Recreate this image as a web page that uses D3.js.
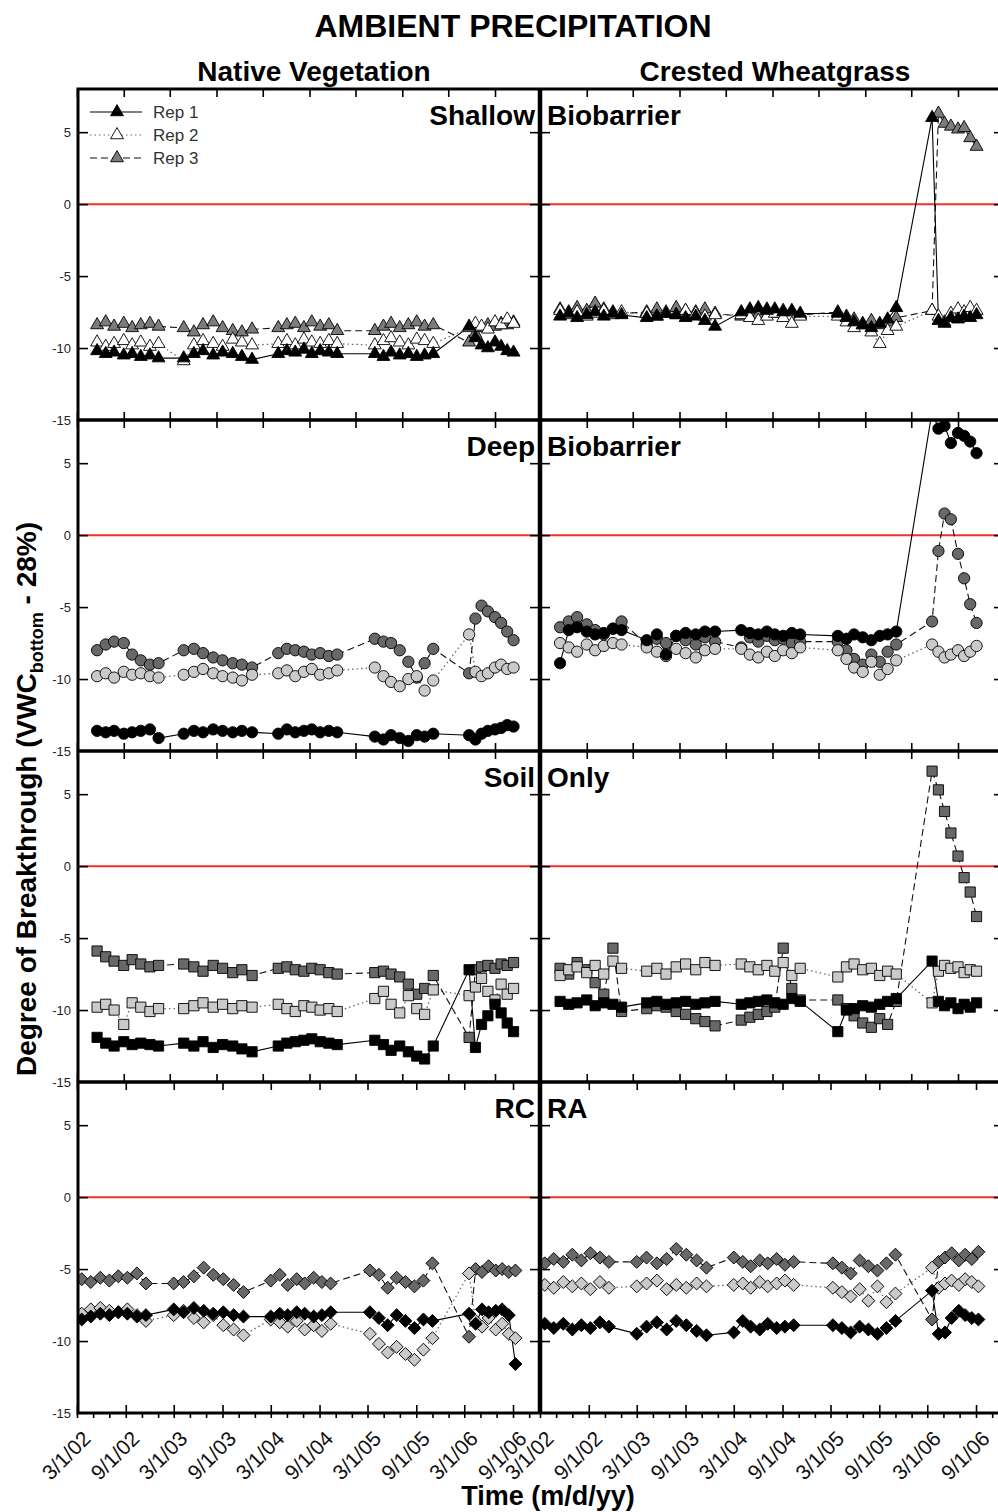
<!DOCTYPE html>
<html>
<head>
<meta charset="utf-8">
<title>Ambient Precipitation</title>
<script src="https://cdnjs.cloudflare.com/ajax/libs/d3/7.8.5/d3.min.js"></script>
<style>
  body { margin: 0; background: #fff; }
  svg { display: block; font-family: Arial, "Liberation Sans", sans-serif; }
</style>
</head>
<body>
<svg id="chart"></svg>
<script>
// ---- values ----
const treatmentLeft = ["Shallow", "Deep", "Soil", "RC"];
const treatmentRight = ["Biobarrier", "Biobarrier", "Only", "RA"];
const vegetation = ["Native Vegetation", "Crested Wheatgrass"];
const repNames = ["Rep 1", "Rep 2", "Rep 3"];
const yTicks = [5, 0, -5, -10, -15];
const tickDates = ["2002-03-01", "2002-09-01", "2003-03-01", "2003-09-01", "2004-03-01",
                   "2004-09-01", "2005-03-01", "2005-09-01", "2006-03-01", "2006-09-01"];
const tickLabels = ["3/1/02", "9/1/02", "3/1/03", "9/1/03", "3/1/04",
                    "9/1/04", "3/1/05", "9/1/05", "3/1/06", "9/1/06"];

// sampling dates, biobarrier and soil-only plots
const sampleDates = [
  "2002-05-19","2002-06-22","2002-07-25","2002-09-01","2002-10-04","2002-11-07","2002-12-13","2003-01-16",
  "2003-04-25","2003-06-04","2003-07-10","2003-08-19","2003-09-25","2003-11-04","2003-12-10","2004-01-19",
  "2004-05-01","2004-06-04","2004-07-07","2004-08-10","2004-09-10","2004-10-13","2004-11-16","2004-12-19",
  "2005-05-16","2005-06-19","2005-07-19","2005-08-22","2005-09-25","2005-10-28","2005-11-28","2006-01-01",
  "2006-05-22","2006-06-16","2006-07-10","2006-08-04","2006-09-01","2006-09-25","2006-10-19","2006-11-13"];
// sampling dates, RCRA plots
const rcraDates = [
  "2002-03-19","2002-04-22","2002-05-28","2002-07-01","2002-08-04","2002-09-07","2002-10-13","2002-11-16",
  "2003-03-01","2003-04-07","2003-05-16","2003-06-22","2003-07-28","2003-09-04","2003-10-13","2003-11-19",
  "2004-03-01","2004-04-04","2004-05-04","2004-06-07","2004-07-07","2004-08-10","2004-09-10","2004-10-13",
  "2005-03-10","2005-04-13","2005-05-16","2005-06-19","2005-07-22","2005-08-25","2005-09-28","2005-11-01",
  "2006-03-19","2006-04-13","2006-05-07","2006-06-01","2006-06-28","2006-07-22","2006-08-16","2006-09-10"];

const shallowNative1 = [-10.2,-10.4,-10.3,-10.5,-10.4,-10.6,-10.5,-10.7, -10.7,-10.4,-10.2,-10.5,-10.3,-10.4,-10.6,-10.8,
  -10.4,-10.2,-10.3,-10.1,-10.4,-10.2,-10.3,-10.4, -10.4,-10.6,-10.3,-10.5,-10.4,-10.6,-10.5,-10.4, -8.5,-9.3,-9.8,-10.0,-9.6,-9.9,-10.2,-10.3];
const shallowNative2 = [-9.6,-9.9,-9.7,-9.5,-9.8,-9.6,-9.9,-9.7, -10.9,-9.8,-9.5,-9.7,-9.9,-9.4,-9.6,-9.8,
  -9.7,-9.5,-9.8,-9.4,-9.6,-9.7,-9.5,-9.7, -9.8,-9.5,-9.3,-9.6,-9.8,-9.4,-9.5,-9.7, -8.6,-8.3,-8.5,-8.7,-8.2,-8.4,-8.0,-8.3];
const shallowNative3 = [-8.4,-8.2,-8.5,-8.3,-8.6,-8.4,-8.3,-8.5, -8.6,-8.9,-8.4,-8.2,-8.6,-8.8,-8.9,-8.7,
  -8.6,-8.4,-8.3,-8.6,-8.2,-8.5,-8.4,-8.8, -8.8,-8.5,-8.3,-8.6,-8.4,-8.2,-8.5,-8.4, -9.6,-9.0,-8.6,-8.4,-8.5,-8.3,-8.4,-8.2];

const shallowCrested1 = [-7.8,-7.6,-7.9,-7.7,-7.5,-7.8,-7.6,-7.7, -7.9,-7.8,-7.6,-7.7,-7.9,-7.8,-8.1,-8.5,
  -7.5,-7.3,-7.2,-7.4,-7.3,-7.5,-7.4,-7.6, -7.6,-7.9,-8.2,-8.4,-8.6,-8.3,-8.0,-7.2, 6.0,-8.1,-8.3,-7.9,-8.0,-7.8,-7.9,-7.7];
const shallowCrested2 = [-7.4,-7.7,-7.5,-7.8,-7.6,-7.4,-7.7,-7.5, -7.6,-7.8,-7.5,-7.7,-7.4,-7.6,-7.8,-7.7,
  -7.7,-7.9,-8.1,-7.8,-7.6,-7.9,-8.3,-7.8, -7.8,-8.2,-8.6,-8.4,-8.9,-9.7,-8.8,-8.5, -7.4,-7.8,-8.2,-7.6,-7.3,-7.5,-7.2,-7.4];
const shallowCrested3 = [-7.3,-7.5,-7.2,-7.4,-6.9,-7.3,-7.5,-7.6, -7.5,-7.3,-7.6,-7.2,-7.4,-7.5,-7.3,-7.6,
  -7.8,-7.5,-7.7,-7.3,-7.6,-7.4,-7.5,-7.7, -7.5,-7.8,-8.0,-8.3,-8.1,-8.4,-8.2,-7.9, -7.4,6.3,5.6,5.4,5.2,5.3,4.6,4.0];

const deepNative1 = [-13.6,-13.7,-13.6,-13.8,-13.7,-13.6,-13.5,-14.1, -13.8,-13.6,-13.7,-13.5,-13.6,-13.7,-13.6,-13.7,
  -13.8,-13.5,-13.7,-13.6,-13.5,-13.7,-13.6,-13.7, -14.0,-14.2,-13.9,-14.1,-14.3,-13.9,-14.0,-13.8, -13.9,-14.2,-13.8,-13.6,-13.5,-13.4,-13.2,-13.3];
const deepNative2 = [-9.8,-9.6,-9.9,-9.5,-9.7,-9.6,-9.8,-9.9, -9.7,-9.5,-9.3,-9.6,-9.8,-9.9,-10.1,-9.7,
  -9.6,-9.4,-9.8,-9.5,-9.3,-9.7,-9.6,-9.4, -9.2,-9.8,-10.2,-10.5,-10.0,-9.8,-10.8,-10.1, -6.9,-9.5,-9.8,-9.6,-9.2,-9.0,-9.3,-9.2];
const deepNative3 = [-8.0,-7.6,-7.4,-7.5,-8.3,-8.7,-9.0,-8.9, -8.0,-7.9,-8.2,-8.5,-8.7,-8.9,-9.0,-9.2,
  -8.2,-7.9,-8.0,-8.1,-8.3,-8.2,-8.4,-8.3, -7.2,-7.4,-7.5,-8.0,-8.8,-9.9,-8.9,-7.9, -9.6,-5.8,-4.9,-5.3,-5.7,-6.1,-6.7,-7.3];

const deepCrested1 = [-8.9,-6.6,-6.4,-6.7,-6.9,-6.8,-6.5,-6.6, -7.3,-6.9,-8.3,-7.0,-6.8,-6.9,-6.7,-6.7,
  -6.6,-6.8,-6.9,-6.7,-6.9,-7.0,-6.8,-6.9, -7.0,-7.2,-6.9,-7.1,-7.3,-7.0,-6.9,-6.7, 8.6,7.4,7.6,6.4,7.1,6.9,6.5,5.7];
const deepCrested2 = [-7.5,-7.8,-8.1,-7.6,-8.0,-7.7,-7.5,-7.6, -7.8,-8.1,-8.4,-7.9,-8.2,-8.5,-8.0,-7.9,
  -7.9,-8.3,-8.5,-8.1,-8.4,-8.0,-8.2,-7.8, -8.0,-8.6,-9.2,-9.5,-8.8,-9.7,-9.3,-8.7, -7.6,-8.1,-8.5,-8.3,-8.0,-8.4,-8.1,-7.7];
const deepCrested3 = [-6.4,-6.0,-5.7,-6.2,-6.6,-6.9,-6.5,-6.0, -7.6,-7.2,-7.5,-7.0,-7.3,-7.6,-7.1,-7.4,
  -7.8,-7.1,-7.4,-7.0,-7.3,-7.2,-7.5,-7.4, -7.4,-8.0,-8.6,-9.0,-8.3,-8.8,-8.1,-7.6, -6.0,-1.1,1.5,1.1,-1.3,-3.0,-4.8,-6.1];

const soilNative1 = [-11.9,-12.3,-12.5,-12.2,-12.4,-12.3,-12.4,-12.5, -12.3,-12.5,-12.2,-12.6,-12.4,-12.5,-12.7,-12.9,
  -12.5,-12.3,-12.2,-12.1,-12.0,-12.2,-12.3,-12.4, -12.1,-12.4,-12.8,-12.5,-12.9,-13.2,-13.4,-12.5, -7.2,-12.6,-11.0,-10.4,-9.6,-10.2,-10.9,-11.5];
const soilNative2 = [-9.8,-9.6,-10.0,-11.0,-9.5,-9.8,-10.1,-9.9, -9.9,-9.7,-9.5,-9.8,-9.6,-9.9,-9.7,-9.8,
  -9.6,-9.9,-10.1,-9.7,-9.8,-10.0,-9.9,-10.1, -9.2,-8.7,-9.6,-10.2,-9.0,-9.9,-10.3,-8.6, -9.0,-8.4,-7.8,-8.7,-9.3,-8.2,-8.9,-8.5];
const soilNative3 = [-5.9,-6.3,-6.6,-6.9,-6.5,-6.8,-7.0,-6.9, -6.8,-7.0,-7.3,-6.9,-7.1,-7.4,-7.2,-7.6,
  -7.1,-7.0,-7.2,-7.3,-7.1,-7.2,-7.4,-7.5, -7.4,-7.3,-7.5,-7.7,-8.2,-8.9,-8.5,-7.6, -11.9,-7.2,-7.0,-6.9,-7.1,-6.8,-6.9,-6.7];

const soilCrested1 = [-9.4,-9.6,-9.5,-9.3,-9.7,-9.5,-9.6,-9.8, -9.5,-9.4,-9.6,-9.5,-9.4,-9.6,-9.5,-9.4,
  -9.6,-9.5,-9.4,-9.3,-9.5,-9.6,-9.2,-9.4, -11.5,-10.0,-9.9,-9.7,-9.8,-9.6,-9.4,-9.2, -6.6,-9.4,-9.7,-9.5,-9.9,-9.6,-9.8,-9.5];
const soilCrested2 = [-7.6,-7.2,-7.0,-7.4,-6.9,-7.5,-6.6,-7.1, -7.3,-7.1,-7.5,-7.0,-6.8,-7.2,-6.7,-6.9,
  -6.8,-7.0,-7.2,-6.9,-7.3,-6.7,-7.6,-7.1, -7.7,-7.0,-6.8,-7.2,-7.1,-7.6,-7.3,-7.5, -9.5,-7.3,-6.9,-7.1,-7.0,-7.4,-7.2,-7.3];
const soilCrested3 = [-7.1,-7.5,-6.7,-7.2,-8.1,-8.9,-5.7,-10.1, -9.9,-9.7,-9.8,-10.1,-10.3,-10.6,-10.8,-11.1,
  -10.7,-10.5,-10.3,-10.1,-9.8,-5.7,-8.5,-9.3, -9.3,-9.9,-10.4,-10.9,-11.2,-10.6,-11.0,-9.4, 6.6,5.3,3.8,2.3,0.7,-0.8,-1.8,-3.5];

const rcraNative1 = [-8.5,-8.3,-8.1,-8.2,-8.0,-8.1,-8.3,-8.2, -7.8,-8.0,-7.7,-7.9,-8.1,-8.0,-8.2,-8.3,
  -8.3,-8.1,-8.2,-8.0,-8.1,-8.3,-8.2,-8.0, -8.0,-8.4,-8.9,-8.2,-8.6,-9.1,-8.5,-8.6, -8.1,-8.8,-7.8,-8.0,-7.9,-7.8,-8.2,-11.6];
const rcraNative2 = [-8.1,-7.8,-7.7,-7.9,-8.0,-7.8,-8.2,-8.6, -8.2,-7.9,-8.4,-8.7,-8.2,-8.9,-9.2,-9.6,
  -8.5,-8.7,-9.0,-8.6,-9.2,-8.9,-9.3,-8.8, -9.5,-10.2,-10.8,-10.4,-10.9,-11.3,-10.6,-9.8, -5.3,-8.6,-9.0,-8.4,-9.2,-8.8,-9.5,-9.8];
const rcraNative3 = [-5.7,-5.9,-5.6,-5.8,-5.5,-5.6,-5.3,-6.0, -6.0,-5.9,-5.5,-4.9,-5.4,-5.7,-6.1,-6.6,
  -5.8,-5.4,-6.1,-5.7,-6.0,-5.6,-5.9,-6.0, -5.1,-5.4,-6.3,-5.6,-5.9,-6.2,-5.8,-4.6, -9.7,-5.0,-5.2,-4.8,-5.1,-5.0,-5.2,-5.1];

const rcraCrested1 = [-8.8,-9.1,-8.8,-9.2,-8.9,-9.1,-8.7,-9.0, -9.5,-9.0,-8.7,-9.2,-8.6,-8.9,-9.3,-9.6,
  -9.4,-8.6,-9.0,-9.2,-8.8,-9.1,-9.0,-8.9, -8.9,-9.1,-9.4,-9.0,-9.2,-9.5,-9.1,-8.6, -6.5,-9.5,-9.4,-8.4,-7.9,-8.2,-8.4,-8.5];
const rcraCrested2 = [-6.1,-6.3,-5.9,-6.2,-6.0,-6.4,-5.9,-6.3, -6.2,-6.0,-5.8,-6.4,-6.1,-6.3,-6.0,-6.2,
  -6.1,-6.0,-6.3,-5.9,-6.2,-6.0,-5.8,-6.1, -6.3,-6.6,-6.9,-6.4,-7.2,-6.2,-7.3,-6.7, -4.9,-6.3,-6.0,-5.8,-6.1,-5.7,-5.9,-6.2];
const rcraCrested3 = [-4.6,-4.3,-4.5,-4.0,-4.4,-3.9,-4.2,-4.5, -4.5,-4.2,-4.6,-4.3,-3.6,-4.0,-4.4,-4.9,
  -4.2,-4.5,-4.8,-4.4,-4.6,-4.3,-4.7,-4.5, -4.6,-4.9,-5.3,-4.4,-4.8,-5.1,-4.6,-4.0, -8.5,-4.5,-4.2,-3.9,-4.4,-4.0,-4.3,-3.8];

const panels = [
    { row: 0, col: 0, dates: sampleDates, reps: [shallowNative1, shallowNative2, shallowNative3] },
    { row: 0, col: 1, dates: sampleDates, reps: [shallowCrested1, shallowCrested2, shallowCrested3] },
    { row: 1, col: 0, dates: sampleDates, reps: [deepNative1, deepNative2, deepNative3] },
    { row: 1, col: 1, dates: sampleDates, reps: [deepCrested1, deepCrested2, deepCrested3] },
    { row: 2, col: 0, dates: sampleDates, reps: [soilNative1, soilNative2, soilNative3] },
    { row: 2, col: 1, dates: sampleDates, reps: [soilCrested1, soilCrested2, soilCrested3] },
    { row: 3, col: 0, dates: rcraDates, reps: [rcraNative1, rcraNative2, rcraNative3] },
    { row: 3, col: 1, dates: rcraDates, reps: [rcraCrested1, rcraCrested2, rcraCrested3] }
];

class BreakthroughChart {

    constructor(_config, _panels) {
        this.config = {
            parentElement: _config.parentElement,
            containerWidth: _config.containerWidth || 998,
            containerHeight: _config.containerHeight || 1512,
            rowTop: [89, 420, 751, 1082],
            rowHeight: 331,
            colLeft: [78, 540],
            colRight: [540, 1004],
            timeOrigin: [77, 540],
            // the RCRA row was drawn with a slightly stretched time axis
            timeSpan: [464, 464, 464, 484]
        };
        this.panels = _panels;
        this.initVis();
    }

    initVis() {
        let vis = this;
        const parse = d3.timeParse("%Y-%m-%d");
        vis.parse = parse;
        vis.timeDomain = [parse("2002-03-01"), parse("2007-03-01")];

        vis.svg = d3.select(vis.config.parentElement)
            .attr('width', vis.config.containerWidth)
            .attr('height', vis.config.containerHeight);

        // titles
        vis.svg.append("text")
            .attr("x", 513).attr("y", 37)
            .attr("text-anchor", "middle")
            .attr("font-size", "32px").attr("font-weight", "bold")
            .text("AMBIENT PRECIPITATION");

        vis.svg.selectAll(".col-title")
            .data(vegetation)
            .enter().append("text")
            .attr("class", "col-title")
            .attr("x", (d, i) => i === 0 ? 314 : 775)
            .attr("y", 81)
            .attr("text-anchor", "middle")
            .attr("font-size", "28px").attr("font-weight", "bold")
            .text(d => d);

        let yTitle = vis.svg.append("text")
            .attr("transform", "translate(36,799) rotate(-90)")
            .attr("text-anchor", "middle")
            .attr("font-size", "28px").attr("font-weight", "bold");
        yTitle.append("tspan").text("Degree of Breakthrough (VWC");
        yTitle.append("tspan").attr("font-size", "18px").attr("dy", 7).text("bottom");
        yTitle.append("tspan").attr("dy", -7).text(" - 28%)");

        vis.svg.append("text")
            .attr("x", 548).attr("y", 1505)
            .attr("text-anchor", "middle")
            .attr("font-size", "27px").attr("font-weight", "bold")
            .text("Time (m/d/yy)");

        vis.updateVis();
    }

    updateVis() {
        let vis = this;
        const cfg = vis.config;

        vis.panels.forEach(p => {
            p.top = cfg.rowTop[p.row];
            p.bottom = p.top + cfg.rowHeight;
            p.left = cfg.colLeft[p.col];
            p.right = cfg.colRight[p.col];
            p.xScale = d3.scaleTime()
                .domain(vis.timeDomain)
                .range([cfg.timeOrigin[p.col], cfg.timeOrigin[p.col] + cfg.timeSpan[p.row]]);
            p.yScale = d3.scaleLinear()
                .domain([-15, 8])
                .range([p.bottom, p.top]);
            p.series = p.reps.map((vals, r) => vals.map((v, i) => ({ date: vis.parse(p.dates[i]), v: v, rep: r })));
        });

        vis.renderVis();
    }

    renderVis() {
        let vis = this;
        const cfg = vis.config;

        const symbolTypes = [d3.symbolTriangle, d3.symbolCircle, d3.symbolSquare, d3.symbolSquare];
        const symbolSizes = [72, 100, 104, 84];
        const symbolTurn = [0, 0, 0, 45];
        const fills = [["#000", "#fff", "#7c7c7c"], ["#000", "#cacaca", "#686868"]];
        const dash = [null, "1.5,3", "7,4"];
        const lineColor = ["#000", "#6a6a6a", "#111"];
        const majorTicks = tickDates.map(vis.parse);

        vis.panels.forEach((p, pi) => {
            const g = vis.svg.append("g");

            g.append("clipPath").attr("id", "clip" + pi)
                .append("rect")
                .attr("x", p.left).attr("y", p.top)
                .attr("width", p.right - p.left).attr("height", cfg.rowHeight);

            const plot = g.append("g").attr("clip-path", `url(#clip${pi})`);

            // zero line
            plot.append("line")
                .attr("x1", p.left).attr("x2", p.right)
                .attr("y1", p.yScale(0)).attr("y2", p.yScale(0))
                .attr("stroke", "#f2302c").attr("stroke-width", 2);

            const line = d3.line()
                .defined(d => d.v != null)
                .x(d => p.xScale(d.date))
                .y(d => p.yScale(d.v));

            plot.selectAll(".rep-line")
                .data(p.series)
                .enter().append("path")
                .attr("class", "rep-line")
                .attr("fill", "none")
                .attr("stroke", (d, r) => lineColor[r])
                .attr("stroke-width", (d, r) => r === 1 ? 1.3 : 1.1)
                .attr("stroke-dasharray", (d, r) => dash[r])
                .attr("d", line);

            const sym = d3.symbol().type(symbolTypes[p.row]).size(symbolSizes[p.row]);
            const palette = p.row === 0 ? fills[0] : fills[1];

            // darker reps drawn last so they sit on top
            [2, 1, 0].forEach(r => {
                plot.selectAll(".pt" + r)
                    .data(p.series[r].filter(d => d.v != null))
                    .enter().append("path")
                    .attr("class", "pt" + r)
                    .attr("d", sym)
                    .attr("transform", d => `translate(${p.xScale(d.date)},${p.yScale(d.v)}) rotate(${symbolTurn[p.row]})`)
                    .attr("fill", palette[r])
                    .attr("stroke", "#000")
                    .attr("stroke-width", 0.9);
            });

            // inward ticks on all four sides
            const tickAxes = [
                { axis: d3.axisRight(p.yScale).tickValues(yTicks.slice(0, 4)).tickSize(10), t: `translate(${p.left},0)` },
                { axis: d3.axisLeft(p.yScale).tickValues(yTicks.slice(0, 4)).tickSize(10), t: `translate(${p.right},0)` },
                { axis: d3.axisBottom(p.xScale).tickValues(majorTicks).tickSize(8), t: `translate(0,${p.top})` },
                { axis: d3.axisTop(p.xScale).tickValues(majorTicks).tickSize(8), t: `translate(0,${p.bottom})` }
            ];
            if (p.row === 3) {
                const minor = d3.timeMonth.range(vis.timeDomain[0], vis.timeDomain[1], 2)
                    .filter(d => p.xScale(d) < p.right - 2);
                tickAxes.push({ axis: d3.axisBottom(p.xScale).tickValues(minor).tickSize(5), t: `translate(0,${p.bottom})` });
            }
            tickAxes.forEach(a => {
                let ag = g.append("g").attr("transform", a.t)
                    .call(a.axis.tickFormat(""));
                ag.select(".domain").remove();
                ag.selectAll("line").attr("stroke", "#000").attr("stroke-width", 1.6);
            });

            // y labels on the left edge
            if (p.col === 0) {
                g.selectAll(".ylab")
                    .data(yTicks)
                    .enter().append("text")
                    .attr("class", "ylab")
                    .attr("x", 71)
                    .attr("y", d => p.yScale(d))
                    .attr("dy", "0.35em")
                    .attr("text-anchor", "end")
                    .attr("font-size", "13px")
                    .attr("fill", "#222")
                    .text(d => d);
            }

            // date labels under the last row
            if (p.row === 3) {
                g.selectAll(".xlab")
                    .data(majorTicks)
                    .enter().append("text")
                    .attr("class", "xlab")
                    .attr("text-anchor", "end")
                    .attr("transform", d => `translate(${p.xScale(d) + 15},${p.bottom + 27}) rotate(-45)`)
                    .attr("font-size", "21px")
                    .attr("fill", "#111")
                    .text((d, i) => tickLabels[i]);
            }

            // treatment label split across the centre divider
            if (p.col === 0) {
                vis.svg.append("text")
                    .attr("x", 535).attr("y", p.top + 36)
                    .attr("text-anchor", "end")
                    .attr("font-size", "28px").attr("font-weight", "bold")
                    .text(treatmentLeft[p.row]);
                vis.svg.append("text")
                    .attr("x", 547).attr("y", p.top + 36)
                    .attr("font-size", "28px").attr("font-weight", "bold")
                    .text(treatmentRight[p.row]);
            }

            if (p.row === 0 && p.col === 0) vis.renderLegend(sym, palette, dash, lineColor);
        });

        // frame
        const frame = vis.svg.append("g").attr("fill", "none").attr("stroke", "#000");
        frame.append("rect")
            .attr("x", cfg.colLeft[0]).attr("y", cfg.rowTop[0])
            .attr("width", cfg.colRight[1] - cfg.colLeft[0])
            .attr("height", cfg.rowHeight * 4)
            .attr("stroke-width", 3);
        cfg.rowTop.slice(1).forEach(t => {
            frame.append("line")
                .attr("x1", cfg.colLeft[0]).attr("x2", cfg.colRight[1])
                .attr("y1", t).attr("y2", t)
                .attr("stroke-width", 3.5);
        });
        frame.append("line")
            .attr("x1", 540).attr("x2", 540)
            .attr("y1", cfg.rowTop[0]).attr("y2", cfg.rowTop[0] + cfg.rowHeight * 4)
            .attr("stroke-width", 4.5);
    }

    renderLegend(sym, palette, dash, lineColor) {
        let vis = this;
        let lg = vis.svg.append("g").attr("class", "legend");
        repNames.forEach((name, r) => {
            const y = 112 + r * 23;
            lg.append("line")
                .attr("x1", 90).attr("x2", 142)
                .attr("y1", y).attr("y2", y)
                .attr("stroke", lineColor[r])
                .attr("stroke-width", 1.2)
                .attr("stroke-dasharray", dash[r]);
            lg.append("path")
                .attr("d", sym)
                .attr("transform", `translate(117,${y})`)
                .attr("fill", palette[r])
                .attr("stroke", "#000")
                .attr("stroke-width", 0.9);
            lg.append("text")
                .attr("x", 153).attr("y", y + 6)
                .attr("font-size", "17px")
                .attr("fill", "#333")
                .text(name);
        });
    }
}

new BreakthroughChart({ parentElement: '#chart' }, panels);
</script>
</body>
</html>
